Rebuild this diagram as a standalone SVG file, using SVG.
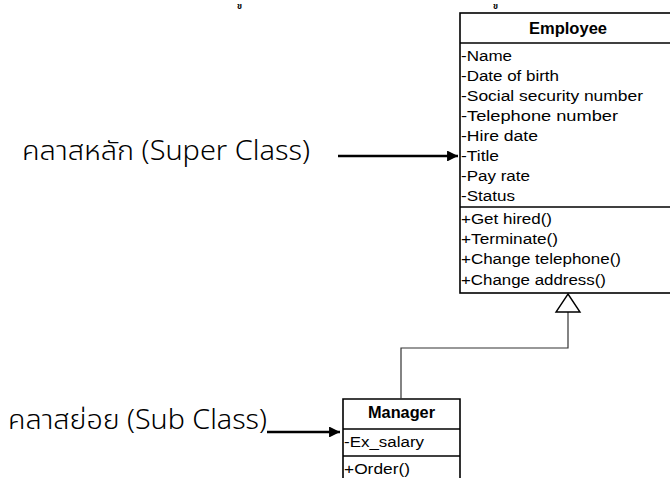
<svg xmlns="http://www.w3.org/2000/svg" width="670" height="478" viewBox="0 0 670 478">
  <style>
    .box { fill: #ffffff; stroke: #000000; stroke-width: 1.6; }
    .sep { stroke: #000000; stroke-width: 1.6; }
    .t { font-family: "Liberation Sans", Arial, sans-serif; font-size: 15.5px; fill: #000000; }
    .h { font-family: "Liberation Sans", Arial, sans-serif; font-size: 16px; font-weight: bold; fill: #000000; }
    .th { font-family: "Noto Sans Thai", "Leelawadee UI", Tahoma, "Noto Sans", "DejaVu Sans", sans-serif; font-size: 27px; font-weight: 300; fill: #000000; }
    .mark { font-family: "Noto Sans Thai", Tahoma, "Noto Sans", "DejaVu Sans", sans-serif; font-size: 8.5px; font-weight: bold; fill: #000000; }
    .pointer { stroke: #000000; stroke-width: 2.6; fill: none; }
    .gen { stroke: #333333; stroke-width: 1.2; fill: none; }
  </style>
  <defs>
    <marker id="solidHead" viewBox="0 0 10 10" refX="10" refY="5" markerWidth="5.2" markerHeight="4.2" orient="auto" markerUnits="strokeWidth">
      <path d="M0,0 L10,5 L0,10 Z" fill="#000000"/>
    </marker>
  </defs>

  <rect width="670" height="478" fill="#ffffff"/>

  <!-- small glyphs at the top edge -->
  <text class="mark" x="237" y="9">ข</text>
  <text class="mark" x="493" y="9">ข</text>

  <!-- labels -->
  <text class="th" x="22" y="160" textLength="288" lengthAdjust="spacingAndGlyphs">คลาสหลัก (Super Class)</text>
  <text class="th" x="8" y="429" textLength="259" lengthAdjust="spacingAndGlyphs">คลาสย่อย (Sub Class)</text>

  <!-- Employee class -->
  <g id="employee">
    <rect class="box" x="460" y="13" width="216" height="280"/>
    <line class="sep" x1="460" y1="43" x2="676" y2="43"/>
    <line class="sep" x1="460" y1="207" x2="676" y2="207"/>
    <text class="h" x="568" y="34" text-anchor="middle" textLength="78" lengthAdjust="spacingAndGlyphs">Employee</text>
    <text class="t" x="461" y="60.5" textLength="51" lengthAdjust="spacingAndGlyphs">-Name</text>
    <text class="t" x="461" y="80.5" textLength="98" lengthAdjust="spacingAndGlyphs">-Date of birth</text>
    <text class="t" x="461" y="100.5" textLength="182" lengthAdjust="spacingAndGlyphs">-Social security number</text>
    <text class="t" x="461" y="120.5" textLength="157" lengthAdjust="spacingAndGlyphs">-Telephone number</text>
    <text class="t" x="461" y="140.5" textLength="77" lengthAdjust="spacingAndGlyphs">-Hire date</text>
    <text class="t" x="461" y="160.5" textLength="38" lengthAdjust="spacingAndGlyphs">-Title</text>
    <text class="t" x="461" y="180.5" textLength="69" lengthAdjust="spacingAndGlyphs">-Pay rate</text>
    <text class="t" x="461" y="200.5" textLength="54" lengthAdjust="spacingAndGlyphs">-Status</text>
    <text class="t" x="461" y="223.5" textLength="91" lengthAdjust="spacingAndGlyphs">+Get hired()</text>
    <text class="t" x="461" y="243.5" textLength="97" lengthAdjust="spacingAndGlyphs">+Terminate()</text>
    <text class="t" x="461" y="264" textLength="160" lengthAdjust="spacingAndGlyphs">+Change telephone()</text>
    <text class="t" x="461" y="284.5" textLength="145" lengthAdjust="spacingAndGlyphs">+Change address()</text>
  </g>

  <!-- Manager class -->
  <g id="manager">
    <path class="box" d="M343,480 L343,399 L460,399 L460,480"/>
    <line class="sep" x1="343" y1="429" x2="460" y2="429"/>
    <line class="sep" x1="343" y1="456" x2="460" y2="456"/>
    <text class="h" x="401.5" y="418" text-anchor="middle" textLength="67" lengthAdjust="spacingAndGlyphs">Manager</text>
    <text class="t" x="344" y="447" textLength="80" lengthAdjust="spacingAndGlyphs">-Ex_salary</text>
    <text class="t" x="344" y="474" textLength="66" lengthAdjust="spacingAndGlyphs">+Order()</text>
  </g>

  <g id="connectors">
    <!-- generalization: Manager to Employee -->
    <path class="gen" d="M401,399 L401,348 L568,348 L568,312"/>
    <path d="M568,294 L580,312 L556,312 Z" fill="#ffffff" stroke="#000000" stroke-width="1.4"/>
    <!-- label pointers -->
    <line class="pointer" x1="338" y1="156" x2="458" y2="156" marker-end="url(#solidHead)"/>
    <line class="pointer" x1="267" y1="432" x2="340" y2="432" marker-end="url(#solidHead)"/>
  </g>
</svg>
